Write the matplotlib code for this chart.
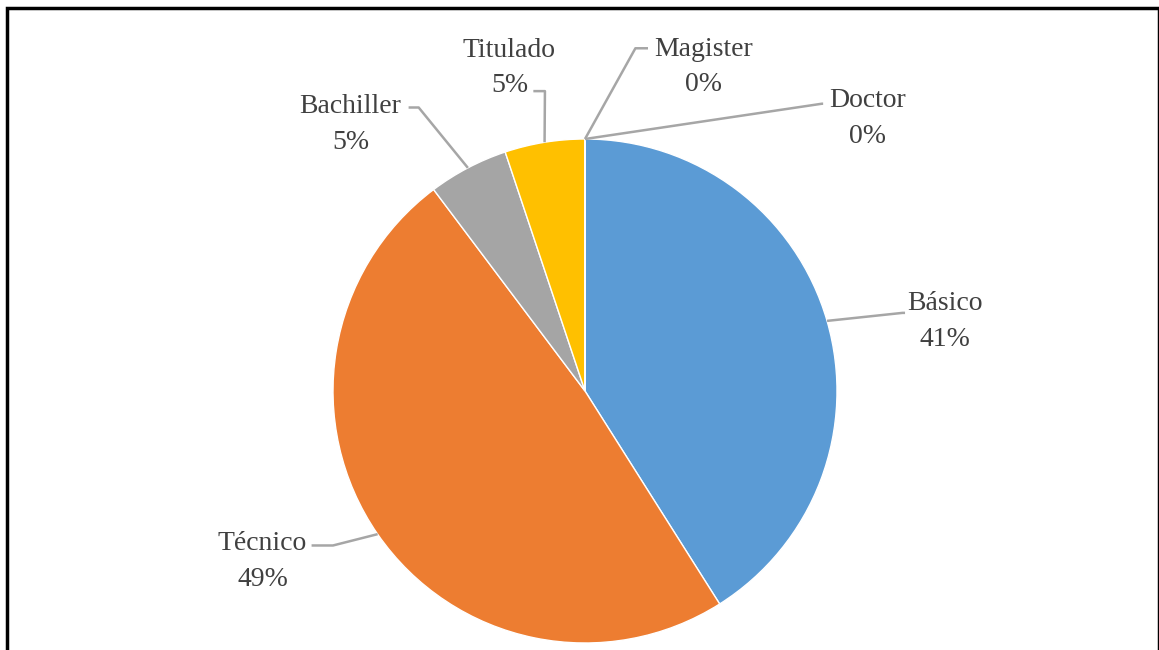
import matplotlib.pyplot as plt
from matplotlib import patches
import numpy as np

# data
labels = ['Básico', 'Técnico', 'Bachiller', 'Titulado', 'Magister', 'Doctor']
counts = [16, 19, 2, 2, 0, 0]
colors = ['#5B9BD5', '#ED7D31', '#A5A5A5', '#FFC000', '#4472C4', '#70AD47']

# label layout (data coords, pie radius = 1)
text_pos = [(1.43, 0.275), (-1.28, -0.677), (-0.93, 1.057),
            (-0.30, 1.282), (0.47, 1.285), (1.12, 1.082)]
# elbow + end point of each leader line
leaders = [[(1.26, 0.31), (1.27, 0.31)],
           [(-1.0, -0.613), (-1.085, -0.613)],
           [(-0.66, 1.125), (-0.70, 1.125)],
           [(-0.159, 1.19), (-0.205, 1.19)],
           [(0.20, 1.36), (0.25, 1.36)],
           [(0.94, 1.14), (0.945, 1.14)]]

plt.rcParams['font.family'] = ['Liberation Serif', 'DejaVu Serif']

W, H = 1159, 650
fig = plt.figure(figsize=(W / 100, H / 100), dpi=100)

cx, cy, r = 585, 391, 252
ax = fig.add_axes([(cx - r) / W, (H - cy - r) / H, 2 * r / W, 2 * r / H])
wedges, _ = ax.pie(counts, colors=colors, startangle=90, counterclock=False,
                   radius=1, wedgeprops=dict(edgecolor='white', linewidth=1))
ax.set_xlim(-1, 1)
ax.set_ylim(-1, 1)
ax.set_aspect('equal')
ax.axis('off')

total = float(sum(counts))
for i, w in enumerate(wedges):
    ang = np.deg2rad((w.theta1 + w.theta2) / 2.0)
    ax_pt = (np.cos(ang), np.sin(ang))
    pts = [ax_pt] + leaders[i]
    xs, ys = zip(*pts)
    ax.plot(xs, ys, color='#A6A6A6', lw=1.8, clip_on=False, zorder=1,
            solid_capstyle='butt')
    pct = '{:.0f}%'.format(100 * counts[i] / total)
    ax.text(text_pos[i][0], text_pos[i][1], labels[i] + '\n' + pct,
            ha='center', va='center', multialignment='center',
            fontsize=20, color='#404040', linespacing=1.55, clip_on=False)

# chart border
fig.add_artist(patches.Rectangle((6.5 / W, -0.1), (1158.5 - 6.5) / W, 1.1 - 8.5 / H,
                                 transform=fig.transFigure, fill=False,
                                 edgecolor='black', lw=2.5))

fig.savefig('out.png', dpi=100)
